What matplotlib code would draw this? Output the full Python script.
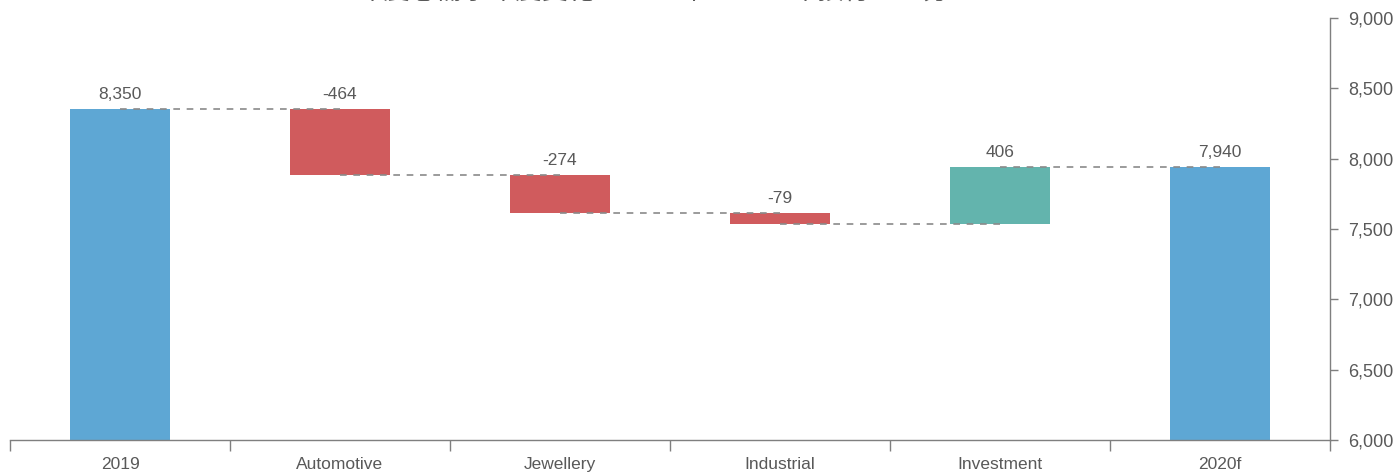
import matplotlib.pyplot as plt
from matplotlib.ticker import FuncFormatter
import numpy as np

plt.rcParams['font.family'] = ['Liberation Sans', 'Noto Sans CJK SC', 'DejaVu Sans']

categories = ['2019', 'Automotive', 'Jewellery', 'Industrial', 'Investment', '2020f']
changes = [8350, -464, -274, -79, 406]
total_2020 = 7940
value_labels = ['8,350', '-464', '-274', '-79', '406', '7,940']
title = '年度总需求年度变化：2019年－2020年按行业区分'

blue = '#5ea7d4'
red = '#d05b5d'
teal = '#63b4ad'
text_gray = '#595959'

fig = plt.figure(figsize=(13.97, 4.74), dpi=100)
ax = fig.add_axes([10 / 1397, 1 - 440 / 474, 1320 / 1397, 422 / 474])

x = np.arange(len(categories))
width = 0.455
ymin = 6000

# running level for the waterfall
levels = np.cumsum(changes)
bottoms, heights, colors = [], [], []
bottoms.append(ymin)
heights.append(changes[0] - ymin)
colors.append(blue)
for i in range(1, len(changes)):
    start = levels[i - 1]
    end = levels[i]
    bottoms.append(min(start, end))
    heights.append(abs(changes[i]))
    colors.append(red if changes[i] < 0 else teal)
bottoms.append(ymin)
heights.append(total_2020 - ymin)
colors.append(blue)

ax.bar(x, heights, bottom=bottoms, width=width, color=colors, zorder=2)

# connectors between bars
for i in range(len(categories) - 1):
    lvl = levels[i] if i < len(levels) else total_2020
    ax.plot([x[i], x[i + 1]], [lvl, lvl], color='#8a8a8a', lw=1.2,
            ls=(0, (4, 4)), zorder=3)

# value labels above each bar
tops = [b + h for b, h in zip(bottoms, heights)]
for xi, top, lab in zip(x, tops, value_labels):
    ax.text(xi, top + 50, lab, ha='center', va='bottom', fontsize=12.5,
            color=text_gray)

ax.set_xlim(-0.5, len(categories) - 0.5)
ax.set_ylim(ymin, 9000)

ax.set_xticks(np.arange(-0.5, len(categories)), minor=False)
ax.set_xticklabels([])
ax.set_xticks(x, minor=True)
ax.set_xticklabels(categories, minor=True, fontsize=12.5, color=text_gray)
ax.tick_params(axis='x', which='major', length=8, color='#7f7f7f', width=1)
ax.tick_params(axis='x', which='minor', length=0, pad=12)

ax.yaxis.tick_right()
ax.set_yticks(np.arange(6000, 9001, 500))
ax.yaxis.set_major_formatter(FuncFormatter(lambda v, p: f'{int(v):,}'))
ax.tick_params(axis='y', length=6, color='#7f7f7f', width=1, labelsize=13,
               labelcolor=text_gray, pad=7)

for side in ['left', 'top']:
    ax.spines[side].set_visible(False)
for side in ['right', 'bottom']:
    ax.spines[side].set_color('#7f7f7f')
    ax.spines[side].set_linewidth(1)

# title sits mostly above the top edge of the figure
fig.text(0.468, 1 - 5 / 474, title, ha='center', va='bottom', fontsize=19,
         color=text_gray)

fig.savefig('out.png', dpi=100)
